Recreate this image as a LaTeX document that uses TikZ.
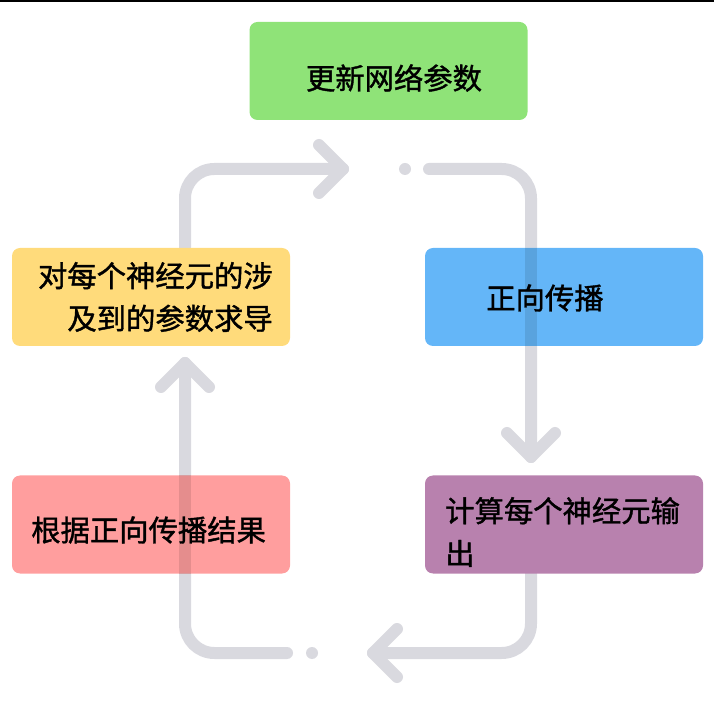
\documentclass[tikz,border=0pt]{standalone}
\usepackage{fontspec}
\setmainfont{Noto Sans CJK SC}[RawFeature={embolden=1.3}]
\usepackage{tikz}
\usetikzlibrary{calc,backgrounds}
\definecolor{cGreen}{HTML}{8FE378}
\definecolor{cBlue}{HTML}{64B6F8}
\definecolor{cYel}{HTML}{FFDB7B}
\definecolor{cPink}{HTML}{FF9E9E}
\definecolor{cPurp}{HTML}{B881AE}
\definecolor{cLoop}{HTML}{D9D9DF}
\tikzset{
  box/.style   ={rounded corners=6pt,draw=none,inner sep=0pt,
                 minimum width=208.5pt,minimum height=73.5pt},
  gbox/.style  ={box,fill=cGreen},
  bbox/.style  ={box,fill=cBlue},
  ybox/.style  ={box,fill=cYel},
  pbox/.style  ={box,fill=cPink},
  mbox/.style  ={box,fill=cPurp},
  lbl/.style   ={font=\fontsize{22}{32}\selectfont,inner sep=0pt,text=black},
  loopline/.style={draw=cLoop,line width=9pt,line cap=round,line join=round,
                 rounded corners=22pt},
  chev/.style  ={draw=cLoop,line width=9pt,line cap=round,line join=round},
  strip/.style ={draw=black,draw opacity=0.1,line width=9pt},
}
\begin{document}
\begin{tikzpicture}[x=0.75pt,y=-0.75pt]
\useasboundingbox (0,0) rectangle (714,705);
\fill[black] (0,0) rectangle (714,2.5);
% boxes
\node[gbox] (grn) at (388.5,71) {};
\node[bbox] (blu) at (564,297) {};
\node[ybox] (yel) at (151,297) {};
\node[pbox] (pnk) at (151,524.5) {};
\node[mbox] (pur) at (564,524.5) {};
% loop points
\coordinate (tipT)  at (343,169);
\coordinate (dotT)  at (405,169);
\coordinate (dashT) at (429,169);
\coordinate (tipR)  at (531,457);
\coordinate (tipB)  at (373,653);
\coordinate (dotB)  at (312,653);
\coordinate (dashB) at (287,653);
\coordinate (tipL)  at (185,363);
% line seen through the boxes
\draw[strip] (blu.north -| tipR) -- (blu.south -| tipR);
\draw[strip] (pnk.north -| tipL) -- (pnk.south -| tipL);
% texts
\node[lbl] (tGrn) at (394,78) {更新网络参数};
\node[lbl,anchor=west] (tBlu) at (486,298) {正向传播};
\node[lbl,anchor=east,align=right] (tYel) at (273,297) {对每个神经元的涉\\及到的参数求导};
\node[lbl,anchor=west] (tPnk) at (31,530) {根据正向传播结果};
\node[lbl,anchor=west,align=left] (tPur) at (445,532) {计算每个神经元输\\出};
\begin{scope}[on background layer]
\draw[loopline] (yel.north -| tipL) |- (tipT);
\draw[loopline] (dashT) -| (tipR);
\draw[loopline] (pur.south -| tipR) |- (tipB);
\draw[loopline] (dashB) -| (tipL);
\draw[chev] (tipT) ++(-24,-24) -- (tipT) -- ++(-24,24);
\draw[chev] (tipR) ++(-24,-24) -- (tipR) -- ++(24,-24);
\draw[chev] (tipB) ++(24,-24) -- (tipB) -- ++(24,24);
\draw[chev] (tipL) ++(-24,24) -- (tipL) -- ++(24,24);
\fill[cLoop] (dotT) circle[radius=4.5pt];
\fill[cLoop] (dotB) circle[radius=4.5pt];
\end{scope}
\end{tikzpicture}
\end{document}
